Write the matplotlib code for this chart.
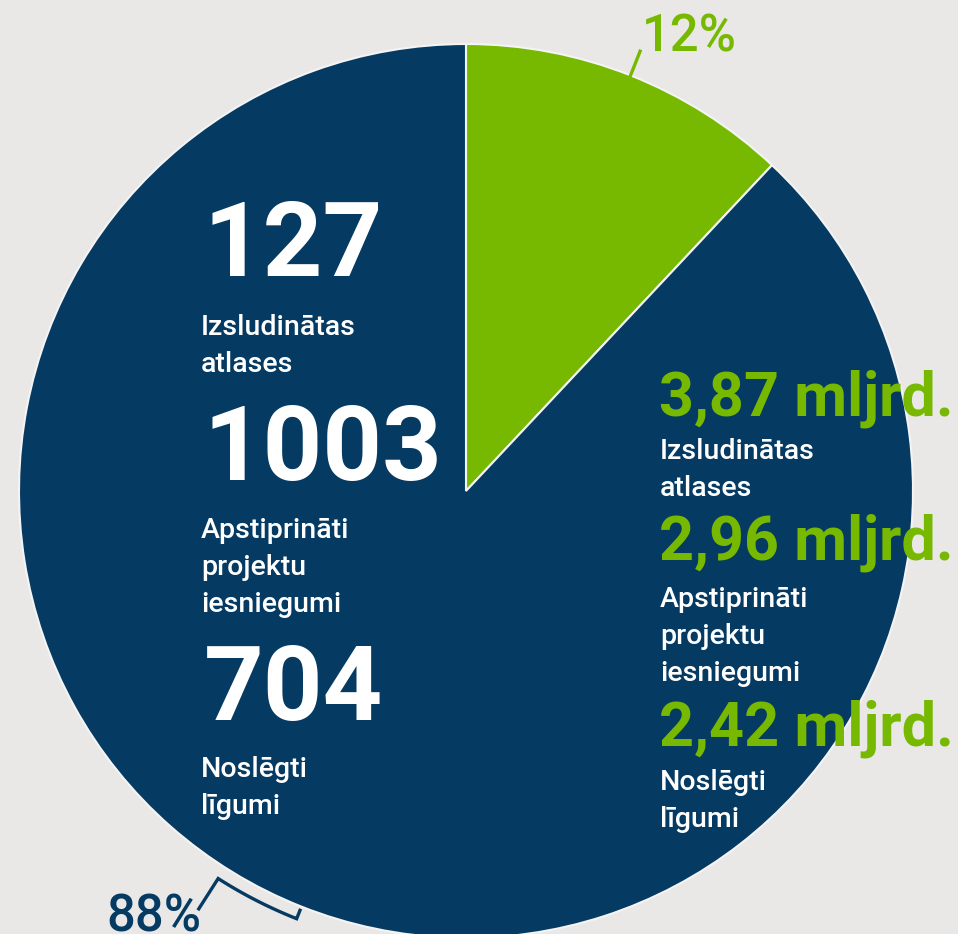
import matplotlib.pyplot as plt
import numpy as np

# dati
shares = [12, 88]
share_labels = ["12%", "88%"]
counts = ["127", "1003", "704"]
amounts = ["3,87 mljrd.", "2,96 mljrd.", "2,42 mljrd."]
captions = ["Izsludinātas\natlases", "Apstiprināti\nprojektu\niesniegumi", "Noslēgti\nlīgumi"]

W, H = 958, 934
bg = "#eae8e6"
blue = "#053a63"
green = "#76b900"

plt.rcParams['font.family'] = ['Roboto', 'DejaVu Sans']

fig = plt.figure(figsize=(W / 100, H / 100), dpi=100, facecolor=bg)
ax = fig.add_axes([0, 0, 1, 1])

def py(y):
    return H - y

cx, cy, R = 466, py(491), 447
wedges, _ = ax.pie(shares, colors=[green, blue], startangle=90, counterclock=False,
                   center=(cx, cy), radius=R, frame=True,
                   wedgeprops=dict(edgecolor='#f4f4f4', linewidth=1.5))
ax.set_xlim(0, W)
ax.set_ylim(0, H)
ax.set_aspect('equal')
ax.axis('off')

# leader for 12%
w = wedges[0]
mid = np.deg2rad((w.theta1 + w.theta2) / 2)
ax.plot([cx + R * np.cos(mid), cx + (R + 26) * np.cos(mid)],
        [cy + R * np.sin(mid), cy + (R + 26) * np.sin(mid)], color=green, lw=2.4)
ax.text(642, py(52), share_labels[0], color=green, fontsize=36.5, fontweight='medium',
        ha='left', va='baseline')

# bracket for 88%
w = wedges[1]
mid = (w.theta1 + w.theta2) / 2
a0 = np.deg2rad(mid - 11)
a = np.linspace(a0, np.deg2rad(mid), 40)
rb = 460
xs = np.concatenate([[cx + 496 * np.cos(a0)], cx + rb * np.cos(a), [cx + 451 * np.cos(a[-1])]])
ys = np.concatenate([[cy + 496 * np.sin(a0)], cy + rb * np.sin(a), [cy + 451 * np.sin(a[-1])]])
ax.plot(xs, ys, color=blue, lw=2.4, solid_joinstyle='miter')
ax.text(106, py(932), share_labels[1], color=blue, fontsize=36.5, fontweight='medium',
        ha='left', va='baseline')

# left column
num_base = [276, 480, 720]
cap_base = [335, 538, 777]
for n, c, nb, cb in zip(counts, captions, num_base, cap_base):
    ax.text(204, py(nb), n, color='white', fontsize=75, fontweight='bold', ha='left', va='baseline')
    for i, line in enumerate(c.split("\n")):
        ax.text(201, py(cb + i * 37), line, color='white', fontsize=20.5,
                fontweight='medium', ha='left', va='baseline')

# right column
amt_base = [415, 560, 745]
lab_base = [459, 607, 790]
for m, c, mb, lb in zip(amounts, captions, amt_base, lab_base):
    ax.text(659, py(mb), m, color=green, fontsize=44, fontweight='bold', ha='left', va='baseline')
    for i, line in enumerate(c.split("\n")):
        ax.text(660, py(lb + i * 37), line, color='white', fontsize=20.5,
                fontweight='medium', ha='left', va='baseline')

fig.savefig("out.png", dpi=100, facecolor=bg)
